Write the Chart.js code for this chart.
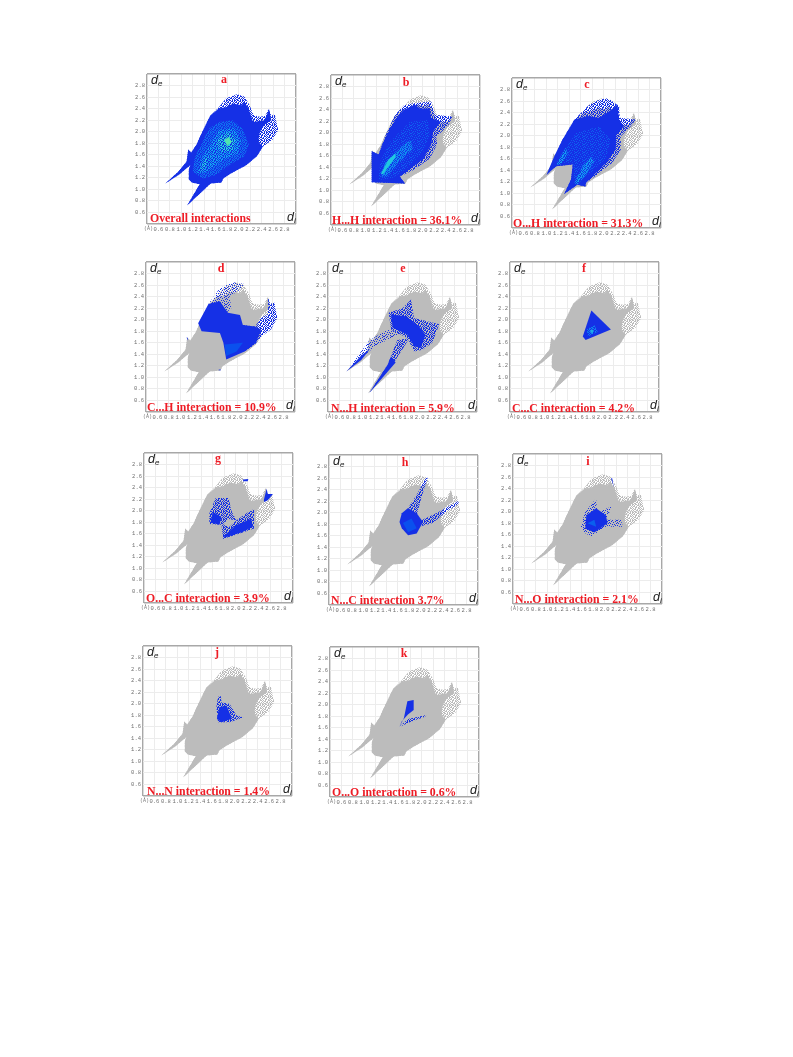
<!DOCTYPE html>
<html>
<head>
<meta charset="utf-8">
<title>Fingerprint plots</title>
<script src="https://cdn.jsdelivr.net/npm/chart.js@4"></script>
<style>
html, body { margin: 0; padding: 0; background: #fff; overflow: hidden; }
#page { position: relative; width: 793px; height: 1057px; filter: blur(0.55px); }
#page canvas { position: absolute; }
.txt { position: absolute; white-space: nowrap; transform: translateY(-50%); line-height: 1; }
.cap { color: #ee1c25; font: bold 11.8px "Liberation Serif", serif; }
.let { color: #ee1c25; font: bold 12px "Liberation Serif", serif; transform: translate(-50%, -50%); }
.ax { color: #222; font: italic 12.5px "Liberation Sans", sans-serif; }
.ax sub { font-size: 8px; vertical-align: -2px; line-height: 0; }
.unit { color: #777; font: 5px "Liberation Mono", monospace; }
</style>
</head>
<body>
<div id="page"></div>
<script>
// axis values shared by all the plots
const tickValues = [0.4, 0.6, 0.8, 1.0, 1.2, 1.4, 1.6, 1.8, 2.0, 2.2, 2.4, 2.6, 2.8, 3.0];
const tickLabels = ['', '0.6', '0.8', '1.0', '1.2', '1.4', '1.6', '1.8', '2.0', '2.2', '2.4', '2.6', '2.8', ''];

// outlines, [di, de]
const envelope = [[.72,1.10],[.95,1.31],[1.09,1.48],[1.12,1.69],[1.17,1.64],[1.26,1.77],[1.38,2.03],[1.50,2.27],[1.65,2.42],[1.78,2.58],[1.97,2.65],[2.10,2.61],[2.19,2.46],[2.26,2.29],[2.36,2.26],[2.46,2.27],[2.52,2.39],[2.57,2.28],[2.63,2.30],[2.69,2.03],[2.59,1.86],[2.42,1.74],[2.32,1.58],[2.13,1.42],[1.87,1.28],[1.73,1.19],[1.70,1.12],[1.51,1.10],[1.10,.72],[1.32,1.09],[1.18,1.12],[1.12,1.19],[1.13,1.34],[1.155,1.42],[.95,1.25]];
const core = [[.72,1.10],[.95,1.31],[1.09,1.48],[1.12,1.69],[1.17,1.64],[1.26,1.77],[1.38,2.03],[1.50,2.27],[1.65,2.40],[1.79,2.43],[1.90,2.49],[2.05,2.46],[2.10,2.52],[2.17,2.40],[2.22,2.26],[2.25,2.17],[2.45,2.20],[2.53,2.39],[2.57,2.20],[2.45,2.12],[2.37,2.00],[2.34,1.83],[2.42,1.74],[2.32,1.58],[2.13,1.42],[1.87,1.28],[1.73,1.19],[1.70,1.12],[1.51,1.10],[1.10,.72],[1.32,1.09],[1.18,1.12],[1.12,1.19],[1.13,1.34],[1.155,1.42],[.95,1.25]];

const aMid = [[1.20,1.31],[1.23,1.54],[1.34,1.77],[1.49,2.06],[1.66,2.17],[1.89,2.20],[2.06,2.06],[2.18,1.77],[2.09,1.57],[1.83,1.42],[1.60,1.25],[1.37,1.19]];
const aLight = [[1.28,1.28],[1.34,1.51],[1.54,1.83],[1.66,2.03],[1.92,2.06],[2.04,1.83],[1.98,1.62],[1.72,1.51],[1.46,1.31]];
const aCyan = [[1.66,1.91],[1.83,2.0],[1.95,1.86],[1.89,1.68],[1.72,1.65],[1.61,1.77]];
const aStreak = [[1.32,1.31],[1.40,1.51],[1.48,1.57],[1.40,1.34]];
const aHot = [[1.75,1.86],[1.83,1.91],[1.88,1.82],[1.80,1.75]];

const bOuter = [[1.11,1.14],[1.11,1.68],[1.23,1.62],[1.34,1.93],[1.52,2.31],[1.67,2.47],[1.85,2.51],[2.15,2.54],[2.21,2.31],[2.52,2.28],[2.45,2.13],[2.24,1.93],[2.25,1.79],[2.12,1.55],[1.83,1.35],[1.60,1.24],[1.69,1.12]];
const bCore = [[1.11,1.14],[1.11,1.68],[1.23,1.62],[1.34,1.90],[1.52,2.22],[1.66,2.39],[1.86,2.49],[1.95,2.42],[2.12,2.42],[2.15,2.25],[2.32,2.19],[2.18,2.02],[2.15,1.79],[2.01,1.55],[1.75,1.35],[1.60,1.24],[1.69,1.12]];
const bMid = [[1.23,1.18],[1.26,1.50],[1.43,1.84],[1.78,2.19],[2.09,2.22],[2.12,1.96],[2.01,1.67],[1.72,1.38],[1.46,1.21]];
const bLight = [[1.28,1.24],[1.34,1.47],[1.60,1.73],[1.78,1.87],[1.83,1.73],[1.54,1.44],[1.37,1.24]];
const bCyan = [[1.27,1.29],[1.40,1.53],[1.52,1.64],[1.53,1.58],[1.40,1.41],[1.31,1.28]];

const cOuter = [[1.0,1.32],[1.14,1.58],[1.17,1.70],[1.28,1.93],[1.49,2.28],[1.72,2.51],[1.86,2.60],[2.04,2.65],[2.12,2.62],[2.27,2.51],[2.28,2.31],[2.56,2.28],[2.47,2.16],[2.30,1.99],[2.30,1.76],[2.15,1.53],[1.92,1.35],[1.69,1.18],[1.68,1.12],[1.54,1.15],[1.31,.99],[1.43,1.24],[1.46,1.50],[1.17,1.47]];
const cCore = [[1.0,1.32],[1.14,1.65],[1.28,1.93],[1.49,2.28],[1.72,2.34],[1.92,2.31],[2.09,2.42],[2.24,2.54],[2.27,2.28],[2.35,2.16],[2.22,2.02],[2.21,1.76],[2.06,1.55],[1.86,1.35],[1.69,1.18],[1.68,1.12],[1.54,1.15],[1.31,.99],[1.43,1.24],[1.46,1.50],[1.17,1.47]];
const cMid = [[1.26,1.67],[1.52,2.05],[1.92,2.16],[2.12,1.93],[2.04,1.61],[1.69,1.29],[1.49,1.21],[1.47,1.53],[1.31,1.53]];
const cStreakA = [[1.17,1.50],[1.28,1.70],[1.34,1.79],[1.37,1.70],[1.26,1.50]];
const cStreakB = [[1.49,1.18],[1.63,1.47],[1.78,1.64],[1.83,1.55],[1.66,1.29],[1.54,1.15]];

const dSolid = [[1.31,1.94],[1.49,2.27],[1.69,2.32],[1.83,2.12],[2.04,2.08],[2.09,1.91],[2.30,1.88],[2.41,1.83],[2.32,1.60],[2.12,1.45],[1.80,1.31],[1.75,1.60],[1.69,1.77],[1.37,1.80]];
const dTop = [[1.49,2.27],[1.69,2.55],[1.92,2.65],[2.12,2.62],[2.04,2.52],[1.86,2.40],[1.89,2.20],[1.80,2.12],[1.63,2.26]];
const dRight = [[2.30,1.88],[2.41,2.03],[2.53,2.10],[2.53,2.39],[2.57,2.27],[2.64,2.30],[2.69,2.03],[2.58,1.83],[2.41,1.71],[2.30,1.57],[2.12,1.45],[2.09,1.91]];
const dBottom = [[1.80,1.37],[1.77,1.57],[2.09,1.60],[1.98,1.45]];
const dSpeckA = [[1.11,1.70],[1.13,1.68],[1.12,1.64]];
const dSpeckB = [[1.66,1.13],[1.70,1.12],[1.70,1.14]];

const eLeftFan = [[.72,1.10],[1.12,1.64],[1.44,1.83],[1.67,1.77],[1.24,1.55],[.98,1.34]];
const eLeftTip = [[.72,1.10],[.98,1.38],[1.14,1.50],[.98,1.30]];
const eLowFan = [[1.12,.73],[1.44,1.22],[1.61,1.65],[1.82,1.68],[1.56,1.27]];
const eLowTip = [[1.12,.73],[1.44,1.22],[1.50,1.36],[1.58,1.26]];
const eMain = [[1.46,2.12],[1.70,2.20],[1.85,2.35],[1.90,2.03],[2.34,1.92],[2.22,1.60],[2.05,1.48],[1.90,1.45],[1.79,1.68],[1.50,1.83]];
const eDense = [[1.50,2.09],[1.76,2.06],[1.99,1.88],[2.10,1.74],[2.02,1.51],[1.90,1.54],[1.79,1.74],[1.53,1.86]];

const fTri = [[1.82,2.16],[2.16,1.83],[1.72,1.65],[1.67,1.71]];
const fLight = [[1.74,1.83],[1.87,1.91],[1.93,1.79],[1.76,1.71]];
const fCyan = [[1.79,1.81],[1.85,1.83],[1.84,1.75]];

const gUpper = [[1.54,1.77],[1.54,1.95],[1.65,2.22],[1.88,2.22],[1.92,2.01],[2.01,1.83],[1.86,1.86],[1.78,1.75]];
const gLower = [[1.75,1.77],[1.89,1.72],[2.01,1.83],[2.18,1.95],[2.32,2.03],[2.32,1.69],[2.12,1.62],[1.78,1.51]];
const gDenseA = [[1.56,1.79],[1.60,1.98],[1.75,1.89],[1.72,1.76]];
const gDenseB = [[1.80,1.57],[2.01,1.75],[2.27,1.86],[2.30,1.72],[2.12,1.63],[1.80,1.53]];
const gTop = [[2.13,2.54],[2.22,2.55],[2.21,2.51],[2.13,2.51]];
const gRight = [[2.49,2.18],[2.54,2.38],[2.56,2.29],[2.65,2.29],[2.56,2.18],[2.50,2.15]];

const hBlob = [[1.63,1.84],[1.67,1.99],[1.78,2.08],[1.93,1.99],[2.04,1.84],[1.93,1.64],[1.78,1.61],[1.67,1.73]];
const hCentre = [[1.69,1.82],[1.84,1.90],[1.93,1.73],[1.78,1.66]];
const hArmUp = [[1.78,2.08],[1.93,2.31],[2.10,2.62],[2.12,2.60],[2.01,2.25],[1.93,1.96]];
const hArmRight = [[2.01,1.87],[2.27,1.99],[2.65,2.20],[2.67,2.16],[2.45,2.02],[2.21,1.82],[1.99,1.76]];

const iOuter = [[1.58,1.74],[1.66,2.00],[1.85,2.23],[1.87,2.0],[2.13,2.09],[2.02,1.86],[2.28,1.86],[2.32,1.74],[2.02,1.74],[1.76,1.57],[1.64,1.64]];
const iDense = [[1.68,1.94],[1.85,2.06],[2.02,1.94],[2.05,1.80],[1.82,1.64],[1.66,1.71]];
const iLight = [[1.70,1.80],[1.82,1.86],[1.85,1.74]];
const iTop = [[2.11,2.58],[2.13,2.58],[2.16,2.43],[2.15,2.43]];

const jOuter = [[1.68,1.94],[1.71,2.12],[1.76,2.13],[1.77,2.02],[1.91,2.0],[2.03,1.80],[2.15,1.76],[1.91,1.68],[1.71,1.68]];
const jDense = [[1.69,1.74],[1.73,1.94],[1.86,1.97],[1.95,1.74],[1.77,1.68]];

const kUpper = [[1.75,2.06],[1.86,2.08],[1.86,1.91],[1.76,1.83],[1.65,1.71],[1.61,1.61],[1.69,1.77]];
const kLower = [[1.60,1.61],[1.76,1.75],[2.08,1.82],[2.06,1.79],[1.82,1.71]];

const BLUE = '#1530e6', GRAY = '#bcbcbc';

// speckle tiles for the scattered parts of the plots
const SPARSE = ['#..#...#', '..#...#.', '#...#...', '.#.....#', '...#.#..', '#.....#.', '..#.#...', '.#....#.'];
const DENSE = ['#.##.#.#', '.#..##.#', '##.#..#.', '..##.#.#', '#.#..##.', '.##.#..#', '#..##.#.', '.##..#.#'];

function speckle(color, tile) {
    const c = document.createElement('canvas');
    c.width = c.height = 8;
    const g = c.getContext('2d');
    g.fillStyle = color;
    tile.forEach((row, y) => [...row].forEach((s, x) => { if (s === '#') g.fillRect(x, y, 1, 1); }));
    return g.createPattern(c, 'repeat');
}
const grayDots = speckle('#bcbcbc', DENSE), blueDots = speckle(BLUE, DENSE), blueSparse = speckle(BLUE, SPARSE);
const grayBase = [[envelope, grayDots], [core, GRAY]];

// plot frames and their red texts
const panels = [
    { x: 147, y: 74, name: 'a', nx: 224, ny: 79, cap: 'Overall interactions', cx: 150, cy: 218,
      layers: [[envelope, blueDots], [core, BLUE], [aMid, speckle('#0f70f0', DENSE)], [aLight, speckle('#10a4f0', DENSE)], [aStreak, speckle('#20d0e0', DENSE)], [aCyan, speckle('#22d4dc', DENSE)], [aHot, '#50e4b0']] },
    { x: 331, y: 75, name: 'b', nx: 406, ny: 82, cap: 'H...H interaction = 36.1%', cx: 332, cy: 220,
      layers: [...grayBase, [bOuter, blueDots], [bCore, BLUE], [bMid, speckle('#0f60f0', SPARSE)], [bLight, speckle('#0f90f0', DENSE)], [bCyan, '#20c8e0']] },
    { x: 512, y: 78, name: 'c', nx: 587, ny: 84, cap: 'O...H interaction = 31.3%', cx: 513, cy: 223,
      layers: [...grayBase, [cOuter, blueDots], [cCore, BLUE], [cMid, speckle('#0f60f0', SPARSE)], [cStreakA, speckle('#10a0f0', DENSE)], [cStreakB, speckle('#10a0f0', DENSE)]] },
    { x: 146, y: 262, name: 'd', nx: 221, ny: 268, cap: 'C...H interaction = 10.9%', cx: 147, cy: 407,
      layers: [...grayBase, [dTop, blueSparse], [dRight, blueDots], [dSolid, BLUE], [dBottom, '#0a50ee'], [dSpeckA, BLUE], [dSpeckB, BLUE]] },
    { x: 328, y: 262, name: 'e', nx: 403, ny: 268, cap: 'N...H interaction = 5.9%', cx: 331, cy: 408,
      layers: [...grayBase, [eLeftFan, blueSparse], [eLowFan, blueDots], [eMain, blueDots], [eLeftTip, BLUE], [eLowTip, BLUE], [eDense, BLUE]] },
    { x: 510, y: 262, name: 'f', nx: 584, ny: 268, cap: 'C...C interaction = 4.2%', cx: 512, cy: 408,
      layers: [...grayBase, [fTri, BLUE], [fLight, speckle('#0f80f0', DENSE)], [fCyan, '#20b0e8']] },
    { x: 144, y: 453, name: 'g', nx: 218, ny: 458, cap: 'O...C interaction = 3.9%', cx: 146, cy: 598,
      layers: [...grayBase, [gUpper, blueDots], [gLower, blueDots], [gDenseA, BLUE], [gDenseB, BLUE], [gTop, BLUE], [gRight, BLUE]] },
    { x: 329, y: 455, name: 'h', nx: 405, ny: 462, cap: 'N...C interaction 3.7%', cx: 331, cy: 600,
      layers: [...grayBase, [hArmUp, blueDots], [hArmRight, blueDots], [hBlob, BLUE], [hCentre, '#0a50ee']] },
    { x: 513, y: 454, name: 'i', nx: 588, ny: 461, cap: 'N...O interaction = 2.1%', cx: 515, cy: 599,
      layers: [...grayBase, [iOuter, blueSparse], [iDense, BLUE], [iLight, '#0a60ee'], [iTop, BLUE]] },
    { x: 143, y: 646, name: 'j', nx: 217, ny: 652, cap: 'N...N interaction = 1.4%', cx: 147, cy: 791,
      layers: [...grayBase, [jOuter, blueDots], [jDense, BLUE]] },
    { x: 330, y: 647, name: 'k', nx: 404, ny: 653, cap: 'O...O interaction = 0.6%', cx: 332, cy: 792,
      layers: [...grayBase, [kUpper, BLUE], [kLower, blueDots]] }
];

const SIZE = 150, GUTTER_L = 16, GUTTER_B = 10;
const page = document.getElementById('page');

function addText(cls, html, left, top) {
    const el = document.createElement('div');
    el.className = 'txt ' + cls;
    el.innerHTML = html;
    el.style.left = left + 'px';
    el.style.top = top + 'px';
    page.appendChild(el);
}

function axis(extra) {
    return Object.assign({
        type: 'linear', min: 0.4, max: 3.0,
        afterBuildTicks: a => { a.ticks = tickValues.map(v => ({ value: v })); },
        border: { display: false },
        grid: {
            drawTicks: false,
            lineWidth: c => (c.tick && (c.tick.value === 0.4 || c.tick.value === 3.0)) ? 1.4 : 1,
            color: c => (c.tick && (c.tick.value === 0.4 || c.tick.value === 3.0)) ? '#a8a8a8' : '#ececec'
        },
        ticks: {
            autoSkip: false, maxRotation: 0, minRotation: 0, padding: 2, color: '#707070',
            font: { family: '"Liberation Mono", monospace', size: 5.5 },
            callback: (v, i) => tickLabels[i]
        }
    }, extra);
}

panels.forEach(p => {
    const canvas = document.createElement('canvas');
    page.appendChild(canvas);
    // painted in list order: later layers sit on top
    const datasets = p.layers.map((l, i) => ({
        data: l[0].concat([l[0][0]]).map(q => ({ x: q[0], y: q[1] })),
        showLine: true, fill: 'shape', tension: 0,
        backgroundColor: l[1], borderWidth: 0, pointRadius: 0,
        order: p.layers.length - i
    }));
    const W = SIZE + GUTTER_L + 10, H = SIZE + GUTTER_B + 10;
    canvas.width = W; canvas.height = H;
    canvas.style.width = W + 'px'; canvas.style.height = H + 'px';
    const chart = new Chart(canvas, {
        type: 'scatter',
        data: { datasets },
        options: {
            responsive: false, animation: false, events: [],
            layout: { padding: { top: 6, right: 6, left: 0, bottom: 0 } },
            plugins: { legend: { display: false }, tooltip: { enabled: false } },
            scales: {
                x: axis({ afterFit: a => { a.height = GUTTER_B; } }),
                y: axis({ afterFit: a => { a.width = GUTTER_L; } })
            }
        }
    });
    // nudge so the plot area lands exactly on the frame
    const dw = SIZE - (chart.chartArea.right - chart.chartArea.left);
    const dh = SIZE - (chart.chartArea.bottom - chart.chartArea.top);
    if (dw || dh) chart.resize(W + dw, H + dh);
    canvas.style.left = (p.x - chart.chartArea.left) + 'px';
    canvas.style.top = (p.y - chart.chartArea.top) + 'px';

    addText('let', p.name, p.nx, p.ny);
    addText('cap', p.cap, p.cx, p.cy);
    addText('ax', 'd<sub>e</sub>', p.x + 4, p.y + 6);
    addText('ax', 'd<sub>i</sub>', p.x + SIZE - 10, p.y + SIZE - 7);
    addText('unit', '(Å)', p.x - 3, p.y + SIZE + 5);
});
</script>
</body>
</html>
